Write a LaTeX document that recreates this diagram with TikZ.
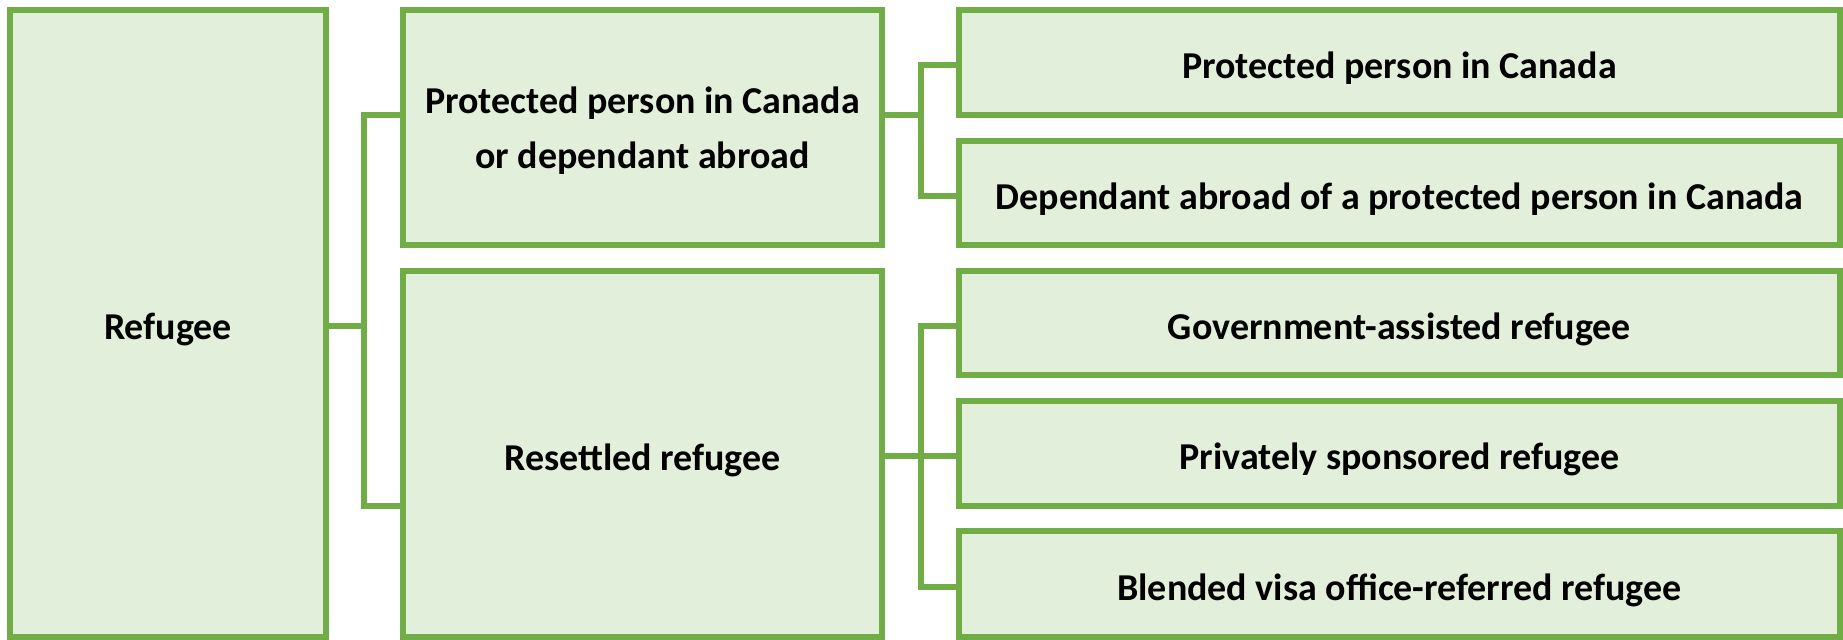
\documentclass[tikz,border=0pt]{standalone}
\usepackage{tikz}
\usepackage{xcolor}
\usepackage{fontspec}
\setmainfont{Carlito}
\definecolor{leafline}{HTML}{70AD47}
\definecolor{leaffill}{HTML}{E2EFDA}

\begin{document}
\begin{tikzpicture} [x=0.01cm, y=-0.01cm,
  box/.style={draw=leafline, fill=leaffill, line width=0.06cm, inner sep=0pt, outer sep=0pt},
  boxtext/.style={align=center, yshift=-0.06cm, inner sep=0pt,
    font=\fontsize{10.8pt}{13.9pt}\selectfont\bfseries},
  link/.style={draw=leafline, line width=0.06cm, line join=miter}]
\useasboundingbox (0,0) rectangle (1843,639);
\node[box, minimum width=3.16cm, minimum height=6.27cm, label={[boxtext]center:Refugee}] (ref) at (168,323.5) {};
\node[box, minimum width=4.79cm, minimum height=2.35cm, label={[boxtext, yshift=0.03cm]center:Protected person in Canada\\[0.06cm]or dependant abroad}] (pa) at (642.5,127.5) {};
\node[box, minimum width=4.79cm, minimum height=3.66cm, label={[boxtext]center:Resettled refugee}] (rr) at (642.5,454) {};
\node[box, minimum width=8.81cm, minimum height=1.05cm, label={[boxtext]center:Protected person in Canada}] (pc) at (1399.5,62.5) {};
\node[box, minimum width=8.81cm, minimum height=1.04cm, label={[boxtext]center:Dependant abroad of a protected person in Canada}] (da) at (1399.5,193) {};
\node[box, minimum width=8.81cm, minimum height=1.04cm, label={[boxtext]center:Government-assisted refugee}] (ga) at (1399.5,323) {};
\node[box, minimum width=8.81cm, minimum height=1.05cm, label={[boxtext]center:Privately sponsored refugee}] (ps) at (1399.5,453.5) {};
\node[box, minimum width=8.81cm, minimum height=1.06cm, label={[boxtext]center:Blended visa office-referred refugee}] (bv) at (1399.5,584) {};
\coordinate (j1) at (364,326);
\coordinate (j1t) at (364,115);
\coordinate (j1b) at (364,506);
\coordinate (j2) at (921,115);
\coordinate (j2t) at (921,65);
\coordinate (j2b) at (921,196);
\coordinate (j3) at (921,456);
\coordinate (j3t) at (921,326);
\coordinate (j3b) at (921,587);
\draw[link] (ref.east |- j1) -- (j1);
\draw[link] (pa.west |- j1t) -- (j1t) -- (j1b) -- (rr.west |- j1b);
\draw[link] (pa.east |- j2) -- (j2);
\draw[link] (pc.west |- j2t) -- (j2t) -- (j2b) -- (da.west |- j2b);
\draw[link] (rr.east |- j3) -- (j3) -- (ps.west |- j3);
\draw[link] (ga.west |- j3t) -- (j3t) -- (j3b) -- (bv.west |- j3b);
\end{tikzpicture}
\end{document}
